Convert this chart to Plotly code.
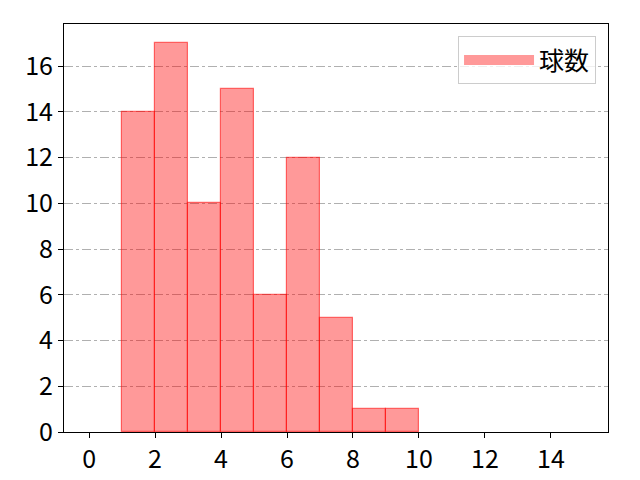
import plotly.graph_objects as go

bin_left = [1, 2, 3, 4, 5, 6, 7, 8, 9]
counts = [14, 17, 10, 15, 6, 12, 5, 1, 1]
series_name = "球数"
x_ticks = [0, 2, 4, 6, 8, 10, 12, 14]
y_ticks = [0, 2, 4, 6, 8, 10, 12, 14, 16]

fill_color = "rgba(255,0,0,0.4)"
edge_color = "rgba(255,0,0,0.55)"

fig = go.Figure()

fig.add_trace(
    go.Bar(
        x=[b + 0.5 for b in bin_left],
        y=counts,
        width=1,
        name=series_name,
        marker=dict(
            color=fill_color,
            line=dict(color=edge_color, width=1.2)
        ),
        showlegend=False,
        legendgroup="pitches"
    )
)

# legend entry drawn as a wide patch, like the matplotlib one
fig.add_trace(
    go.Scatter(
        x=[None],
        y=[None],
        mode="lines",
        name=series_name,
        line=dict(color=fill_color, width=18),
        legendgroup="pitches"
    )
)

fig.update_layout(
    width=640,
    height=480,
    paper_bgcolor="white",
    plot_bgcolor="white",
    margin=dict(l=64, r=32, t=24, b=48),
    font=dict(family="Noto Sans CJK JP, DejaVu Sans", size=25, color="black"),
    bargap=0,
    xaxis=dict(
        range=[-0.76, 15.73],
        tickvals=x_ticks,
        ticks="outside",
        ticklen=5,
        tickcolor="black",
        showline=True,
        linecolor="black",
        linewidth=1,
        mirror=True,
        showgrid=False,
        zeroline=False,
        automargin=False
    ),
    yaxis=dict(
        range=[0, 17.84],
        tickvals=y_ticks,
        ticks="outside",
        ticklen=5,
        tickcolor="black",
        showline=True,
        linecolor="black",
        linewidth=1,
        mirror=True,
        showgrid=True,
        gridcolor="#b0b0b0",
        griddash="dashdot",
        gridwidth=1,
        zeroline=False,
        automargin=False
    ),
    legend=dict(
        x=0.978,
        y=0.97,
        xanchor="right",
        yanchor="top",
        bgcolor="rgba(255,255,255,0.8)",
        bordercolor="#cccccc",
        borderwidth=1,
        font=dict(size=25),
        itemwidth=70
    )
)

fig.write_html(
    "out.html",
    config={"displayModeBar": False},
    post_script="document.body.style.margin='0';"
)
